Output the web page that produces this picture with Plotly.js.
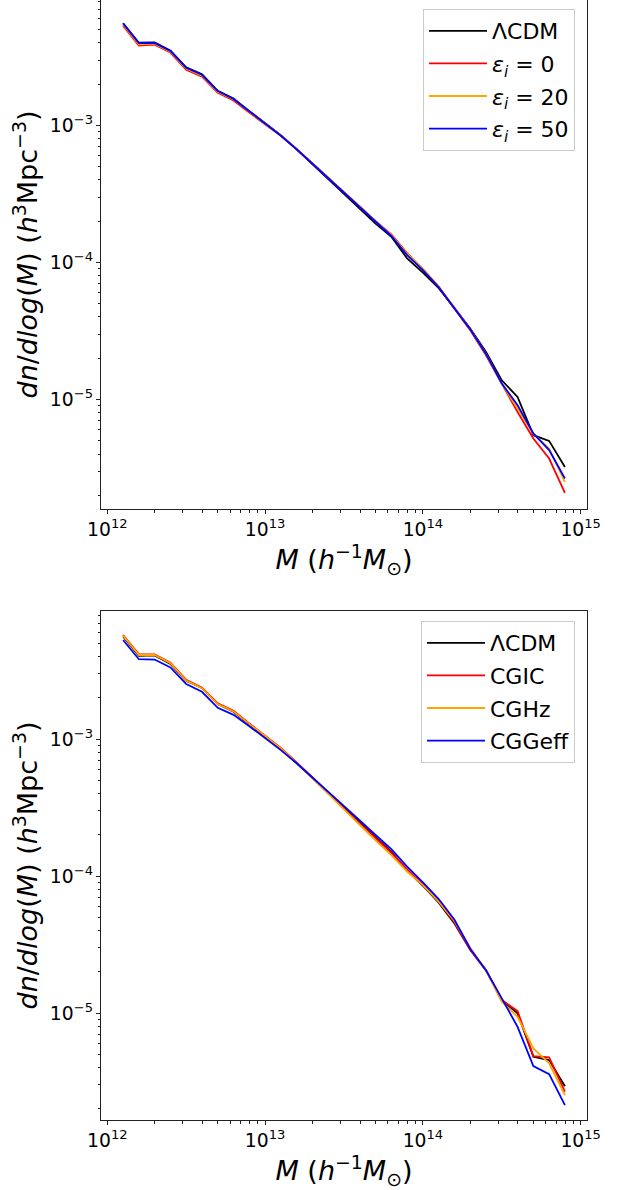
<!DOCTYPE html>
<html>
<head>
<meta charset="utf-8">
<script src="https://cdn.plot.ly/plotly-3.0.1.min.js"></script>
<style>html,body{margin:0;padding:0;background:#fff;}#chart{width:627px;height:1190px;}</style>
</head>
<body>
<div id="chart"></div>
<script>
// log10 of halo mass bin centres (h^-1 Msun)
const logM = [12.1,12.2,12.3,12.4,12.5,12.6,12.7,12.8,12.9,13.0,13.1,13.2,13.3,13.4,13.5,13.6,13.7,13.8,13.9,14.0,14.1,14.2,14.3,14.4,14.5,14.6,14.7,14.8,14.9];

// Top panel: dn/dlog(M)
const lcdmTop = [5.56e-3,4.01e-3,4.03e-3,3.51e-3,2.65e-3,2.36e-3,1.79e-3,1.57e-3,1.27e-3,1.04e-3,8.49e-4,6.68e-4,5.22e-4,4.08e-4,3.15e-4,2.45e-4,1.92e-4,1.54e-4,1.07e-4,8.43e-5,6.49e-5,4.64e-5,3.30e-5,2.22e-5,1.38e-5,1.045e-5,5.49e-6,4.99e-6,3.22e-6];
const eps0 = [5.35e-3,3.82e-3,3.88e-3,3.40e-3,2.55e-3,2.27e-3,1.73e-3,1.52e-3,1.24e-3,1.02e-3,8.4e-4,6.7e-4,5.3e-4,4.15e-4,3.25e-4,2.55e-4,2.0e-4,1.6e-4,1.17e-4,8.9e-5,6.6e-5,4.6e-5,3.2e-5,2.1e-5,1.31e-5,8.1e-6,5.19e-6,3.71e-6,2.08e-6];
const eps20 = [5.45e-3,3.9e-3,3.95e-3,3.45e-3,2.6e-3,2.31e-3,1.76e-3,1.55e-3,1.26e-3,1.03e-3,8.45e-4,6.72e-4,5.3e-4,4.18e-4,3.27e-4,2.57e-4,2.0e-4,1.58e-4,1.16e-4,9.0e-5,6.7e-5,4.7e-5,3.25e-5,2.15e-5,1.3e-5,8.6e-6,5.6e-6,4.39e-6,2.5e-6];
const eps50 = [5.55e-3,3.98e-3,4.0e-3,3.5e-3,2.63e-3,2.34e-3,1.78e-3,1.56e-3,1.27e-3,1.03e-3,8.4e-4,6.7e-4,5.25e-4,4.12e-4,3.22e-4,2.52e-4,1.97e-4,1.56e-4,1.13e-4,8.8e-5,6.6e-5,4.65e-5,3.25e-5,2.15e-5,1.31e-5,9.08e-6,5.65e-6,4.27e-6,2.65e-6];

// Bottom panel: dn/dlog(M)
const lcdmBot = [5.6e-3,4.05e-3,4.07e-3,3.53e-3,2.66e-3,2.36e-3,1.80e-3,1.58e-3,1.28e-3,1.04e-3,8.49e-4,6.68e-4,5.22e-4,4.08e-4,3.15e-4,2.45e-4,1.92e-4,1.5e-4,1.1e-4,8.5e-5,6.4e-5,4.5e-5,2.9e-5,2.06e-5,1.245e-5,9.95e-6,4.8e-6,4.54e-6,2.93e-6];
const cgic = [5.74e-3,4.15e-3,4.15e-3,3.61e-3,2.70e-3,2.37e-3,1.82e-3,1.61e-3,1.30e-3,1.06e-3,8.6e-4,6.75e-4,5.2e-4,4.05e-4,3.12e-4,2.42e-4,1.9e-4,1.48e-4,1.12e-4,8.7e-5,6.5e-5,4.6e-5,2.9e-5,2.05e-5,1.245e-5,1.035e-5,4.85e-6,4.75e-6,2.67e-6];
const cghz = [5.68e-3,4.1e-3,4.1e-3,3.57e-3,2.67e-3,2.35e-3,1.8e-3,1.59e-3,1.29e-3,1.05e-3,8.55e-4,6.7e-4,5.15e-4,3.98e-4,3.05e-4,2.35e-4,1.82e-4,1.42e-4,1.08e-4,8.6e-5,6.5e-5,4.7e-5,3.0e-5,2.05e-5,1.21e-5,9.4e-6,5.52e-6,4.3e-6,2.52e-6];
const cggeff = [5.28e-3,3.82e-3,3.80e-3,3.33e-3,2.52e-3,2.21e-3,1.69e-3,1.50e-3,1.24e-3,1.01e-3,8.3e-4,6.65e-4,5.25e-4,4.15e-4,3.25e-4,2.55e-4,2.0e-4,1.57e-4,1.17e-4,9.0e-5,6.8e-5,4.8e-5,2.95e-5,2.05e-5,1.28e-5,7.94e-6,4.1e-6,3.59e-6,2.13e-6];

const namesTop = ['ΛCDM','<i>ε</i><sub><i>i</i></sub> = 0','<i>ε</i><sub><i>i</i></sub> = 20','<i>ε</i><sub><i>i</i></sub> = 50'];
const namesBot = ['ΛCDM','CGIC','CGHz','CGGeff'];
const colors = ['#000000','#ff0000','#ffa500','#0000ff'];

const M = logM.map(v => Math.pow(10, v));
const topSeries = [lcdmTop, eps0, eps20, eps50];
const botSeries = [lcdmBot, cgic, cghz, cggeff];

const traces = [];
topSeries.forEach((s, i) => traces.push({x: M, y: s, type: 'scatter', mode: 'lines', name: namesTop[i],
  legendgroup: 't' + i, line: {color: colors[i], width: 1.8}, xaxis: 'x', yaxis: 'y', legend: 'legend'}));
botSeries.forEach((s, i) => traces.push({x: M, y: s, type: 'scatter', mode: 'lines', name: namesBot[i],
  legendgroup: 'b' + i, line: {color: colors[i], width: 1.8}, xaxis: 'x2', yaxis: 'y2', legend: 'legend2'}));

const F = 'DejaVu Sans, sans-serif';
const xTitle = '<i>M</i> (<i>h</i><sup>−1</sup><i>M</i><sub>⊙</sub>)';
const yTitle = '<i>dn</i>/<i>dlog</i>(<i>M</i>) (<i>h</i><sup>3</sup>Mpc<sup>−3</sup>)';

function xax(anchor) {
  return {type: 'log', range: [11.96, 15.04], domain: [101/627, 587/627], anchor: anchor,
    showline: true, mirror: true, linecolor: '#222', linewidth: 1, showgrid: false, zeroline: false,
    ticks: 'outside', ticklen: 4, tickcolor: '#222', dtick: 1, exponentformat: 'power',
    tickfont: {family: F, size: 15, color: '#000'},
    minor: {ticks: 'outside', ticklen: 2.5, dtick: 'D1', tickcolor: '#222', showgrid: false},
    title: {text: xTitle, font: {family: F, size: 27, color: '#000'}, standoff: 4}};
}
function yax(anchor, range, domain) {
  return {type: 'log', range: range, domain: domain, anchor: anchor,
    showline: true, mirror: true, linecolor: '#222', linewidth: 1, showgrid: false, zeroline: false,
    ticks: 'outside', ticklen: 4, tickcolor: '#222', dtick: 1, exponentformat: 'power',
    tickfont: {family: F, size: 15, color: '#000'},
    minor: {ticks: 'outside', ticklen: 2.5, dtick: 'D1', tickcolor: '#222', showgrid: false},
    title: {text: yTitle, font: {family: F, size: 27, color: '#000'}, standoff: 4}};
}

const legendStyle = {xanchor: 'right', yanchor: 'top', bgcolor: '#ffffff', bordercolor: '#cccccc', borderwidth: 1,
  font: {family: F, size: 22, color: '#000'}, itemwidth: 58, tracegroupgap: 1};

const layout = {
  width: 627, height: 1190, margin: {l: 0, r: 0, t: 0, b: 0},
  paper_bgcolor: '#ffffff', plot_bgcolor: '#ffffff', showlegend: true,
  xaxis: xax('y'),
  yaxis: yax('x', [-5.799, -2.085], [1 - 509/1190, 1]),
  xaxis2: xax('y2'),
  yaxis2: yax('x2', [-5.78, -2.066], [1 - 1120/1190, 1 - 611/1190]),
  legend: Object.assign({x: 575/627, y: 1 - 9/1190}, legendStyle),
  legend2: Object.assign({x: 575/627, y: 1 - 621/1190}, legendStyle)
};

Plotly.newPlot('chart', traces, layout, {displayModeBar: false, staticPlot: true});
</script>
</body>
</html>
